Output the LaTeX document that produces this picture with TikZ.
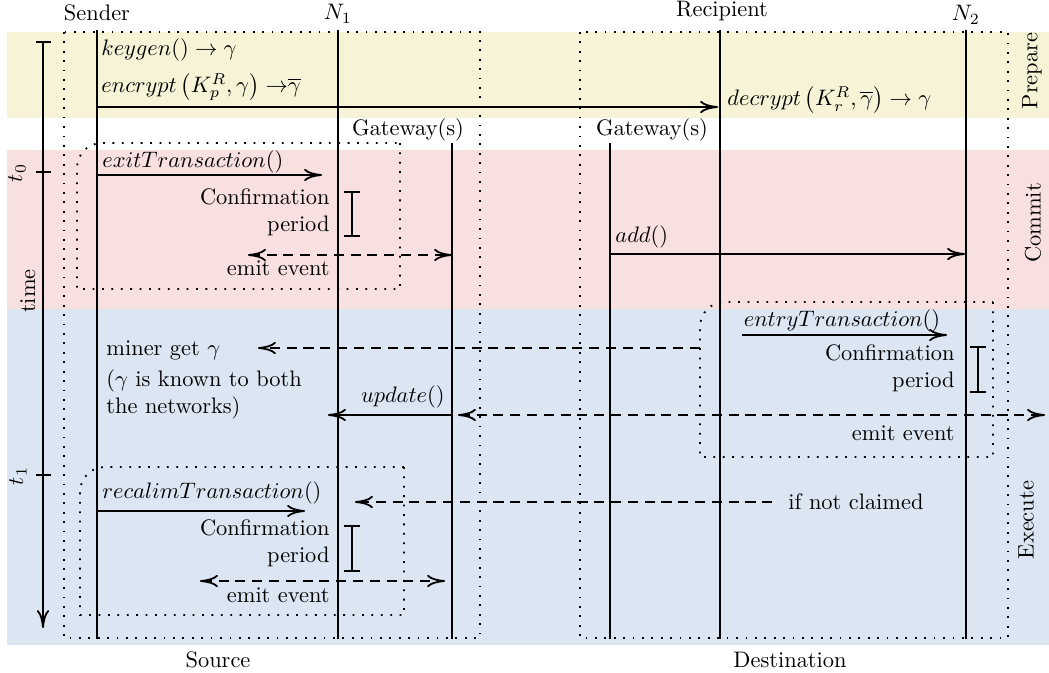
\documentclass[tikz,border=0pt]{standalone}
\usetikzlibrary{arrows.meta}
\definecolor{prepbg}{RGB}{246,243,215}
\definecolor{commitbg}{RGB}{248,223,224}
\definecolor{execbg}{RGB}{220,230,242}
\begin{document}
\begin{tikzpicture}[x=0.4464pt,y=-0.4464pt,
  >={Computer Modern Rightarrow[length=8pt,width=5.5pt]},
  life/.style={line width=0.8pt},
  call/.style={line width=0.8pt,->},
  event/.style={line width=0.8pt,dash pattern=on 4.5pt off 3pt},
  frame/.style={line width=0.8pt,dash pattern=on 0.8pt off 3.4pt},
  txt/.style={inner sep=0pt},
  period/.style={line width=0.8pt,{Bar[width=7pt]}-{Bar[width=7pt]}},
  phase/.style={rotate=90,inner sep=0pt}]
\useasboundingbox (0,0) rectangle (1049,672);

% phase bands
\fill[prepbg]   (7,32)  rectangle (1049,118);
\fill[commitbg] (7,150) rectangle (1049,309);
\fill[execbg]   (7,309) rectangle (1049,645);

% network frames
\draw[frame] (64,32) rectangle (480,638);
\draw[frame] (580,32) rectangle (1008,638);
\node[txt] (source) at (218,660) {Source};
\node[txt] (dest) at (790,660) {Destination};

% transaction frames
\draw[frame] (400,143) -- (400,289) -- (77,289) -- (77,168)
  .. controls (77,154) and (88,143) .. (102,143) -- cycle;
\draw[frame] (993,302) -- (993,457) -- (700,457) -- (700,327)
  .. controls (700,313) and (711,302) .. (725,302) -- cycle;
\draw[frame] (404,467) -- (404,615) -- (80,615) -- (80,492)
  .. controls (80,478) and (91,467) .. (105,467) -- cycle;

% participants
\node[txt] (sender) at (97,13) {Sender};
\node[txt] (n1) at (338,14) {$N_1$};
\node[txt] (recip) at (722,11) {Recipient};
\node[txt] (n2) at (966,15) {$N_2$};
\node[txt] (gwa) at (408,130) {Gateway(s)};
\node[txt] (gwb) at (652,130) {Gateway(s)};

% lifelines
\coordinate (sender-top) at (97,30);  \coordinate (sender-bot) at (97,639);
\coordinate (n1-top) at (338,30);     \coordinate (n1-bot) at (338,639);
\coordinate (gwa-top) at (452,143);   \coordinate (gwa-bot) at (452,639);
\coordinate (gwb-top) at (610,143);   \coordinate (gwb-bot) at (610,639);
\coordinate (recip-top) at (720,30);  \coordinate (recip-bot) at (720,639);
\coordinate (n2-top) at (966,30);     \coordinate (n2-bot) at (966,639);
\foreach \p in {sender,n1,gwa,gwb,recip,n2}
  \draw[life] (\p-top) -- (\p-bot);

% time axis
\coordinate (time-top) at (43,42);
\coordinate (time-bot) at (43,628);
\draw[life,->] (time-top) -- (time-bot);
\draw[life] (36,42) -- (51,42);
\draw[life] (36,172) -- (51,172);
\draw[life] (36,475) -- (51,475);
\node[phase] (t0) at (17,173) {$t_0$};
\node[phase] (time) at (28,291) {time};
\node[phase] (t1) at (18,476) {$t_1$};

% phase names
\node[phase] (prepare) at (1032,71) {Prepare};
\node[phase] (commit) at (1033,223) {Commit};
\node[phase] (execute) at (1026,520) {Execute};

% prepare
\node[txt,anchor=west] (keygen) at (101,50) {$keygen() \rightarrow \gamma$};
\node[txt,anchor=west] (encrypt) at (101,87)
  {$encrypt\left(K_p^R, \gamma\right) \rightarrow\mskip-5mu\overline{\gamma}$};
\coordinate (enc-a) at (97,107);
\coordinate (enc-b) at (718,107);
\draw[call] (enc-a) -- (enc-b);
\node[txt,anchor=west] (decrypt) at (727,100)
  {$decrypt\left(K_r^R, \overline{\gamma}\right) \rightarrow \gamma$};

% commit: exit transaction on the source network
\node[txt,anchor=west] (exit) at (102,162) {$exitTransaction()$};
\coordinate (exit-a) at (97,175);
\coordinate (exit-b) at (322,175);
\draw[call] (exit-a) -- (exit-b);
\node[txt,anchor=east,align=right] (conf1) at (330,212) {Confirmation\\period};
\coordinate (conf1-a) at (352,191);
\coordinate (conf1-b) at (352,237);
\draw[period] (conf1-a) -- (conf1-b);
\coordinate (emit1-a) at (248,255);
\coordinate (emit1-b) at (452,255);
\draw[event,<->] (emit1-a) -- (emit1-b);
\node[txt,anchor=east] (emit1) at (330,268) {emit event};

% commit: add on the destination network
\node[txt,anchor=west] (add) at (615,237) {$add()$};
\coordinate (add-a) at (610,254);
\coordinate (add-b) at (965,254);
\draw[call] (add-a) -- (add-b);

% execute: entry transaction on the destination network
\node[txt] (entry) at (842,321) {$entryTransaction()$};
\coordinate (entry-a) at (742,335);
\coordinate (entry-b) at (947,335);
\draw[call] (entry-a) -- (entry-b);
\node[txt,anchor=east,align=right] (conf2) at (955,368) {Confirmation\\period};
\coordinate (conf2-a) at (978,346);
\coordinate (conf2-b) at (978,393);
\draw[period] (conf2-a) -- (conf2-b);
\coordinate (emit2-a) at (458,415);
\coordinate (emit2-b) at (1045,415);
\draw[event,<->] (emit2-a) -- (emit2-b);
\node[txt,anchor=east] (emit2) at (955,433) {emit event};

% execute: gamma revealed to the source network
\coordinate (miner-a) at (700,348);
\coordinate (miner-b) at (258,348);
\draw[event,->] (miner-a) -- (miner-b);
\node[txt,anchor=west] (miner) at (106,350) {miner get $\gamma$};
\node[txt,anchor=west,align=left] (known) at (106,394)
  {($\gamma$ is known to both\\the networks)};
\node[txt,anchor=east] (update) at (445,397) {$update()$};
\coordinate (update-a) at (452,415);
\coordinate (update-b) at (328,415);
\draw[call] (update-a) -- (update-b);

% execute: reclaim on the source network
\node[txt,anchor=west] (reclaim) at (102,493) {$recalimTransaction()$};
\coordinate (reclaim-a) at (97,511);
\coordinate (reclaim-b) at (305,511);
\draw[call] (reclaim-a) -- (reclaim-b);
\node[txt,anchor=east,align=right] (conf3) at (330,543) {Confirmation\\period};
\coordinate (conf3-a) at (352,525);
\coordinate (conf3-b) at (352,572);
\draw[period] (conf3-a) -- (conf3-b);
\coordinate (emit3-a) at (200,581);
\coordinate (emit3-b) at (445,581);
\draw[event,<->] (emit3-a) -- (emit3-b);
\node[txt,anchor=east] (emit3) at (330,595) {emit event};
\node[txt,anchor=west] (claim) at (788,502) {if not claimed};
\coordinate (claim-b) at (355,502);
\draw[event,->] ([xshift=-7pt]claim.west) -- (claim-b);
\end{tikzpicture}
\end{document}
